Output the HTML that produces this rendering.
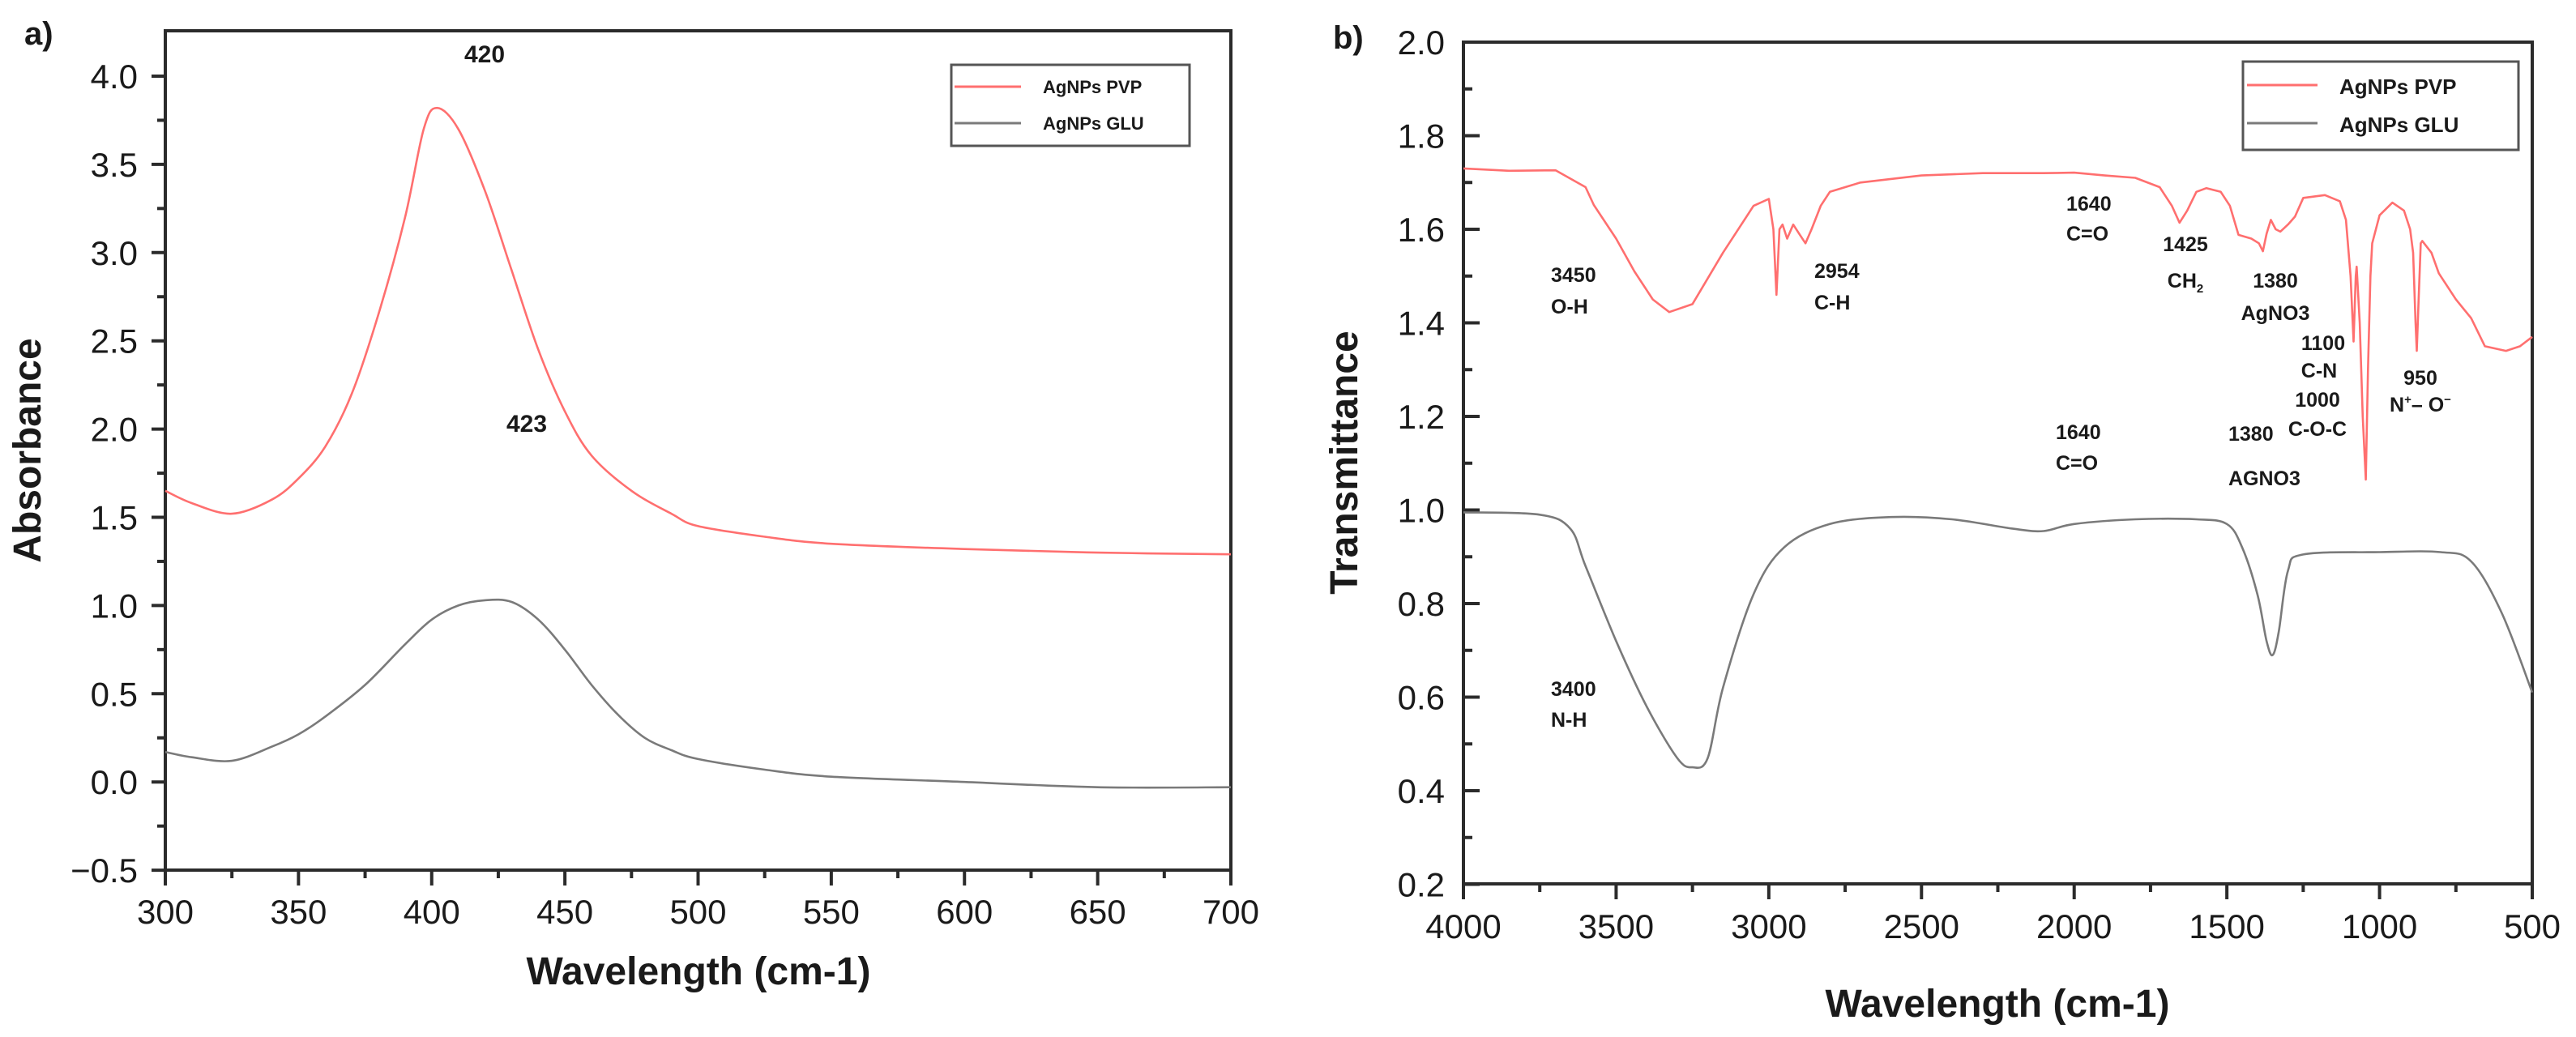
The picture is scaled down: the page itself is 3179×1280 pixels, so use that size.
<!DOCTYPE html>
<html><head><meta charset="utf-8">
<style>
html,body{margin:0;padding:0;background:#fff;}
svg{display:block;font-family:"Liberation Sans",Arial,sans-serif;}
</style></head>
<body>
<svg id="fig" width="3179" height="1280" viewBox="0 0 3179 1280" xmlns="http://www.w3.org/2000/svg"></svg>
<script>
// ---- Panel a data (UV-Vis) ----
const uvWavelength = [300,310,325,340,350,360,370,380,390,397,402,410,420,430,440,450,460,475,490,500,525,550,600,650,700];
const uvPVP = [1.65,1.58,1.52,1.60,1.72,1.90,2.20,2.65,3.20,3.70,3.82,3.70,3.35,2.90,2.45,2.10,1.85,1.65,1.52,1.45,1.39,1.35,1.32,1.30,1.29];
const uvGLUx = [300,310,325,340,350,360,375,390,400,410,420,430,440,450,460,470,480,490,500,525,550,600,650,700];
const uvGLU = [0.17,0.14,0.12,0.20,0.27,0.37,0.55,0.78,0.92,1.00,1.03,1.02,0.92,0.75,0.55,0.38,0.25,0.18,0.13,0.07,0.03,0.00,-0.03,-0.03];
const uvXTicks = [300,350,400,450,500,550,600,650,700];
const uvYTicks = [-0.5,0.0,0.5,1.0,1.5,2.0,2.5,3.0,3.5,4.0];

// ---- Panel b data (FTIR) ----
const irPVPx = [4000,3850,3698,3600,3573,3500,3440,3380,3326,3250,3150,3050,3000,2985,2975,2965,2955,2940,2920,2900,2880,2860,2830,2800,2700,2500,2300,2100,2000,1900,1800,1720,1680,1655,1630,1600,1567,1520,1490,1462,1420,1395,1382,1370,1356,1340,1325,1300,1277,1250,1179,1130,1110,1095,1085,1078,1075,1065,1055,1045,1038,1030,1024,1000,958,920,900,890,882,878,872,865,860,830,806,750,700,655,586,540,500];
const irPVP = [1.73,1.725,1.726,1.69,1.652,1.58,1.51,1.45,1.423,1.44,1.55,1.65,1.665,1.60,1.46,1.60,1.61,1.58,1.61,1.59,1.57,1.60,1.65,1.68,1.70,1.715,1.72,1.72,1.721,1.715,1.71,1.69,1.65,1.614,1.64,1.68,1.688,1.68,1.65,1.588,1.58,1.57,1.553,1.59,1.62,1.60,1.595,1.61,1.627,1.667,1.673,1.66,1.62,1.50,1.36,1.50,1.52,1.40,1.20,1.065,1.30,1.50,1.57,1.63,1.657,1.64,1.60,1.55,1.40,1.34,1.45,1.57,1.575,1.55,1.506,1.45,1.41,1.35,1.34,1.35,1.37];
const irGLUx = [4000,3750,3650,3600,3500,3400,3300,3250,3200,3150,3050,2950,2800,2600,2400,2200,2100,2000,1800,1600,1500,1450,1400,1370,1350,1330,1300,1250,1000,800,700,600,500];
const irGLU = [0.995,0.99,0.96,0.88,0.72,0.58,0.47,0.45,0.47,0.62,0.82,0.92,0.97,0.985,0.98,0.96,0.955,0.97,0.98,0.98,0.97,0.92,0.82,0.72,0.69,0.74,0.87,0.905,0.91,0.91,0.89,0.78,0.61];
const irXTicks = [4000,3500,3000,2500,2000,1500,1000,500];
const irYTicks = [0.2,0.4,0.6,0.8,1.0,1.2,1.4,1.6,1.8,2.0];

const NS = "http://www.w3.org/2000/svg";
const svg = document.getElementById('fig');
function mk(tag, attrs, parent){
  const e = document.createElementNS(NS, tag);
  for (const k in attrs) e.setAttribute(k, attrs[k]);
  (parent||svg).appendChild(e);
  return e;
}
function txt(s, x, y, size, weight, anchor, parent){
  const t = mk('text', {x:x, y:y, 'font-size':size, 'font-weight':weight||'normal', 'text-anchor':anchor||'start', fill:'#1a1a1a'}, parent);
  t.textContent = s;
  return t;
}

const ax = {
  a: {x0:204, x1:1519, y0:38, y1:1074, xmin:300, xmax:700, yTopVal:4.0, yTopPx:94, yPerUnit:217.8},
  b: {x0:1806, x1:3125, y0:52, y1:1091, xmin:4000, xmax:500, yTopVal:2.0, yTopPx:52, yPerUnit:577.5}
};
function xa(v){ return ax.a.x0 + (v-ax.a.xmin)/(ax.a.xmax-ax.a.xmin)*(ax.a.x1-ax.a.x0); }
function ya(v){ return ax.a.yTopPx + (ax.a.yTopVal - v)*ax.a.yPerUnit; }
function xb(v){ return ax.b.x0 + (ax.b.xmin-v)/(ax.b.xmin-ax.b.xmax)*(ax.b.x1-ax.b.x0); }
function yb(v){ return ax.b.yTopPx + (ax.b.yTopVal - v)*ax.b.yPerUnit; }

function drawSeries(xs, ys, fx, fy, color, name, smooth){
  const P = xs.map((v,i)=>[fx(v), fy(ys[i])]);
  let d = 'M'+P[0][0].toFixed(1)+' '+P[0][1].toFixed(1);
  for (let i=1;i<P.length;i++){
    if (smooth){
      const p0 = P[Math.max(0,i-2)], p1 = P[i-1], p2 = P[i], p3 = P[Math.min(P.length-1,i+1)];
      const c1x = p1[0]+(p2[0]-p0[0])/6, c1y = p1[1]+(p2[1]-p0[1])/6;
      const c2x = p2[0]-(p3[0]-p1[0])/6, c2y = p2[1]-(p3[1]-p1[1])/6;
      d += ' C'+c1x.toFixed(1)+' '+c1y.toFixed(1)+' '+c2x.toFixed(1)+' '+c2y.toFixed(1)+' '+p2[0].toFixed(1)+' '+p2[1].toFixed(1);
    } else {
      d += ' L'+P[i][0].toFixed(1)+' '+P[i][1].toFixed(1);
    }
  }
  const p = mk('path', {d:d, fill:'none', stroke:color, 'stroke-width':2.6, 'stroke-linejoin':'round'});
  
  
}

// ---------- Panel a ----------
const ga = mk('g', {});


drawSeries(uvWavelength, uvPVP, xa, ya, '#ff6f6f', 'series-agnps-pvp-uv', true);
drawSeries(uvGLUx, uvGLU, xa, ya, '#7a7a7a', 'series-agnps-glu-uv', true);
const fa = mk('rect', {x:ax.a.x0, y:ax.a.y0, width:ax.a.x1-ax.a.x0, height:ax.a.y1-ax.a.y0, fill:'none', stroke:'#2b2b2b', 'stroke-width':4}, ga);


uvXTicks.forEach((v,i)=>{
  const x = xa(v);
  const t = mk('line', {x1:x, y1:ax.a.y1, x2:x, y2:ax.a.y1+19, stroke:'#2b2b2b', 'stroke-width':4}, ga);
  
  
  const l = txt(String(v), x, 1140, 42, 'normal', 'middle', ga);
  
  
  if (i < uvXTicks.length-1){
    const xm = xa(v+25);
    mk('line', {x1:xm, y1:ax.a.y1, x2:xm, y2:ax.a.y1+10, stroke:'#2b2b2b', 'stroke-width':4}, ga);
  }
});
uvYTicks.forEach((v,i)=>{
  const y = ya(v);
  const t = mk('line', {x1:ax.a.x0-17, y1:y, x2:ax.a.x0, y2:y, stroke:'#2b2b2b', 'stroke-width':4}, ga);
  
  
  const l = txt(v.toFixed(1).replace('-','\u2212'), 170, y+15, 42, 'normal', 'end', ga);
  
  
  if (i < uvYTicks.length-1){
    const ym = ya(v+0.25);
    mk('line', {x1:ax.a.x0-10, y1:ym, x2:ax.a.x0, y2:ym, stroke:'#2b2b2b', 'stroke-width':4}, ga);
  }
});
let e;
e = txt('Wavelength (cm-1)', 862, 1215, 48, 'bold', 'middle', ga);
 
e = txt('Absorbance', 0, 0, 48, 'bold', 'middle', ga);
e.setAttribute('transform', 'translate(50,556) rotate(-90)');
 
e = txt('a)', 30, 55, 40, 'bold', 'start', ga);
 
e = txt('420', 598, 77, 30, 'bold', 'middle', ga);
 
e = txt('423', 650, 533, 30, 'bold', 'middle', ga);
 
const la = mk('g', {}, ga);


mk('rect', {x:1174, y:80, width:294, height:100, fill:'#fff', stroke:'#555', 'stroke-width':3}, la);
mk('line', {x1:1178, y1:107, x2:1260, y2:107, stroke:'#ff6f6f', 'stroke-width':3}, la);
mk('line', {x1:1178, y1:152, x2:1260, y2:152, stroke:'#7a7a7a', 'stroke-width':3}, la);
e = txt('AgNPs PVP', 1287, 115, 22, 'bold', 'start', la);
 
e = txt('AgNPs GLU', 1287, 160, 22, 'bold', 'start', la);
 

// ---------- Panel b ----------
const gb = mk('g', {});


drawSeries(irPVPx, irPVP, xb, yb, '#ff6f6f', 'series-agnps-pvp-ftir', false);
drawSeries(irGLUx, irGLU, xb, yb, '#7a7a7a', 'series-agnps-glu-ftir', true);
const fb = mk('rect', {x:ax.b.x0, y:ax.b.y0, width:ax.b.x1-ax.b.x0, height:ax.b.y1-ax.b.y0, fill:'none', stroke:'#2b2b2b', 'stroke-width':4}, gb);


irXTicks.forEach((v,i)=>{
  const x = xb(v);
  const t = mk('line', {x1:x, y1:ax.b.y1, x2:x, y2:ax.b.y1+19, stroke:'#2b2b2b', 'stroke-width':4}, gb);
  
  
  const l = txt(String(v), x, 1158, 42, 'normal', 'middle', gb);
  
  
  if (i < irXTicks.length-1){
    const xm = xb(v-250);
    mk('line', {x1:xm, y1:ax.b.y1, x2:xm, y2:ax.b.y1+10, stroke:'#2b2b2b', 'stroke-width':4}, gb);
  }
});
irYTicks.forEach((v,i)=>{
  const y = yb(v);
  const t = mk('line', {x1:ax.b.x0, y1:y, x2:ax.b.x0+20, y2:y, stroke:'#2b2b2b', 'stroke-width':4}, gb);
  
  
  const l = txt(v.toFixed(1), 1783, y+15, 42, 'normal', 'end', gb);
  
  
  if (i < irYTicks.length-1){
    const ym = yb(v+0.1);
    mk('line', {x1:ax.b.x0, y1:ym, x2:ax.b.x0+11, y2:ym, stroke:'#2b2b2b', 'stroke-width':4}, gb);
  }
});
e = txt('Wavelength (cm-1)', 2465, 1255, 48, 'bold', 'middle', gb);
 
e = txt('Transmittance', 0, 0, 48, 'bold', 'middle', gb);
e.setAttribute('transform', 'translate(1675,571) rotate(-90)');
 
e = txt('b)', 1645, 60, 40, 'bold', 'start', gb);
 

const ann = [
  ['3450',1914,348,'start','annotation-3450'],['O-H',1914,387,'start','annotation-oh'],
  ['2954',2239,343,'start','annotation-2954'],['C-H',2239,382,'start','annotation-ch'],
  ['1640',2550,260,'start','annotation-1640-pvp'],['C=O',2550,297,'start','annotation-co-pvp'],
  ['1425',2697,310,'middle','annotation-1425'],
  ['1380',2808,355,'middle','annotation-1380-pvp'],['AgNO3',2808,395,'middle','annotation-agno3-pvp'],
  ['1100',2867,432,'middle','annotation-1100'],['C-N',2862,466,'middle','annotation-cn'],
  ['1000',2860,502,'middle','annotation-1000'],['C-O-C',2860,538,'middle','annotation-coc'],
  ['950',2987,475,'middle','annotation-950'],
  ['1640',2537,542,'start','annotation-1640-glu'],['C=O',2537,580,'start','annotation-co-glu'],
  ['1380',2750,544,'start','annotation-1380-glu'],['AGNO3',2750,599,'start','annotation-agno3-glu'],
  ['3400',1914,859,'start','annotation-3400'],['N-H',1914,897,'start','annotation-nh']
];
ann.forEach(a=>{
  const t = txt(a[0], a[1], a[2], 25, 'bold', a[3], gb);
  
  
});
e = mk('text', {x:2697, y:355, 'font-size':25, 'font-weight':'bold', 'text-anchor':'middle', fill:'#1a1a1a'}, gb);
e.innerHTML = 'CH<tspan font-size="15" dy="6">2</tspan>';
 
e = mk('text', {x:2987, y:508, 'font-size':25, 'font-weight':'bold', 'text-anchor':'middle', fill:'#1a1a1a'}, gb);
e.innerHTML = 'N<tspan font-size="15" dy="-10">+</tspan><tspan dy="10">\u2013 O</tspan><tspan font-size="15" dy="-10">\u2212</tspan>';
 

const lb = mk('g', {}, gb);


mk('rect', {x:2768, y:76, width:340, height:109, fill:'#fff', stroke:'#555', 'stroke-width':3}, lb);
mk('line', {x1:2773, y1:105, x2:2860, y2:105, stroke:'#ff6f6f', 'stroke-width':3}, lb);
mk('line', {x1:2773, y1:152, x2:2860, y2:152, stroke:'#7a7a7a', 'stroke-width':3}, lb);
e = txt('AgNPs PVP', 2887, 116, 26, 'bold', 'start', lb);
 
e = txt('AgNPs GLU', 2887, 163, 26, 'bold', 'start', lb);
 
</script>
</body></html>
